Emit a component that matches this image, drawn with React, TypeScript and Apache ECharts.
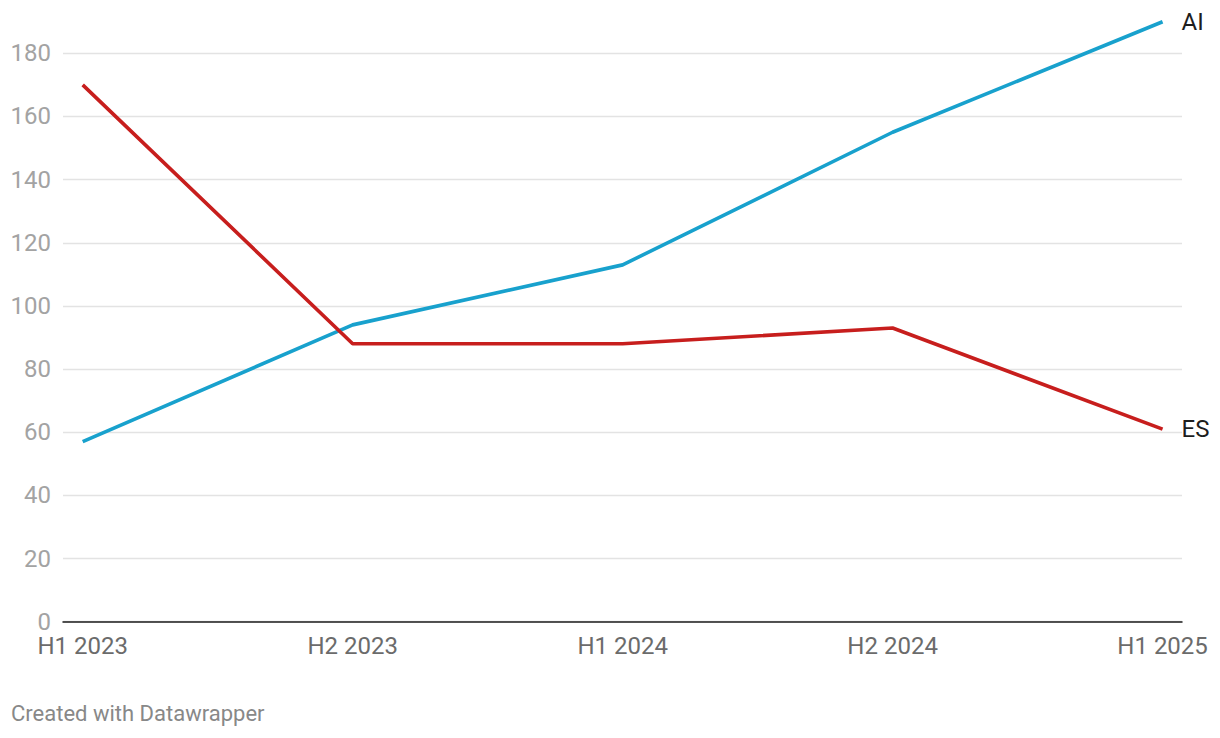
import React, { useEffect, useRef } from "react";
import * as echarts from "echarts";

const categories = ["H1 2023", "H2 2023", "H1 2024", "H2 2024", "H1 2025"];
const aiValues = [57, 94, 113, 155, 190];
const esValues = [170, 88, 88, 93, 61];
const yTicks = [0, 20, 40, 60, 80, 100, 120, 140, 160, 180];

const FONT = "Roboto, 'Noto Sans', sans-serif";

export default function App() {
  const ref = useRef<HTMLDivElement>(null);
  useEffect(() => {
    if (!ref.current) return;
    const chart = echarts.init(ref.current, undefined, { renderer: "svg" });
    const toPairs = (vals: number[]) => vals.map((v, i) => [i, v]);
    const idx = categories.map((_, i) => i);
    chart.setOption({
      animation: false,
      backgroundColor: "#ffffff",
      textStyle: { fontFamily: FONT },
      grid: { left: 63, right: 38, top: 53.3, bottom: 116.3, containLabel: false },
      xAxis: {
        type: "value",
        min: -0.073,
        max: 4.072,
        axisLine: { show: true, onZero: true, lineStyle: { color: "#1d1d1d", width: 1.5 } },
        axisTick: { show: false },
        splitLine: { show: false },
        axisLabel: {
          customValues: idx,
          formatter: (v: number) => categories[Math.round(v)] ?? "",
          color: "#6b6b6b",
          fontSize: 24,
          fontFamily: FONT,
          margin: 12,
        },
      },
      yAxis: {
        type: "value",
        min: 0,
        max: 180,
        interval: 20,
        axisLine: { show: false },
        axisTick: { show: false },
        splitLine: { show: true, lineStyle: { color: "#e3e3e3", width: 1.3 } },
        axisLabel: {
          customValues: yTicks,
          color: "#a3a3a3",
          fontSize: 24,
          fontFamily: FONT,
          margin: 12,
        },
      },
      series: [
        {
          name: "AI",
          type: "line",
          data: toPairs(aiValues),
          clip: false,
          symbol: "none",
          lineStyle: { color: "#18a1cd", width: 3.6 },
          endLabel: {
            show: true,
            formatter: "{a}",
            distance: 19,
            color: "#1d1d1d",
            fontSize: 24,
            fontFamily: FONT,
          },
          z: 3,
        },
        {
          name: "ES",
          type: "line",
          data: toPairs(esValues),
          clip: false,
          symbol: "none",
          lineStyle: { color: "#c71e1d", width: 3.6 },
          endLabel: {
            show: true,
            formatter: "{a}",
            distance: 19,
            color: "#1d1d1d",
            fontSize: 24,
            fontFamily: FONT,
          },
          z: 4,
        },
      ],
      graphic: [
        {
          type: "text",
          left: 11,
          top: 702,
          style: {
            text: "Created with Datawrapper",
            fill: "#888888",
            font: `22px ${FONT}`,
          },
        },
      ],
    });
    return () => chart.dispose();
  }, []);
  return (
    <div
      ref={ref}
      style={{ position: "fixed", left: 0, top: 0, width: 1220, height: 738 }}
    />
  );
}
